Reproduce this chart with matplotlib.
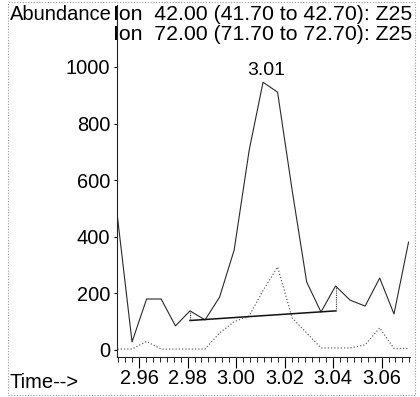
import matplotlib
matplotlib.use("Agg")
import matplotlib.pyplot as plt
from matplotlib.ticker import MultipleLocator, FixedLocator
from matplotlib.patches import Rectangle
import numpy as np

plt.rcParams['font.family'] = ['Liberation Sans', 'DejaVu Sans']

# scan times (min) and extracted ion abundances
scan_time = [2.9511, 2.9571, 2.9631, 2.9691, 2.9750, 2.9810, 2.9872, 2.9932,
             2.9992, 3.0054, 3.0111, 3.0171, 3.0231, 3.0291, 3.0350, 3.0410,
             3.0470, 3.0532, 3.0592, 3.0651, 3.0711]
ion42 = [469, 28, 180, 180, 85, 138, 106, 187, 353, 706, 946, 911, 565, 240,
         134, 226, 176, 155, 254, 127, 381]
ion72 = [3, 3, 30, 3, 3, 3, 3, 60, 100, 120, 210, 293, 113, 60, 7, 7, 7, 18,
         78, 5, 5]

# integration baseline under the 3.01 peak
base_t = [2.9810, 3.0410]
base_v = [104, 138]

xticks = [2.96, 2.98, 3.00, 3.02, 3.04, 3.06]
yticks = [0, 200, 400, 600, 800, 1000]

title1 = "Ion  42.00 (41.70 to 42.70): Z25"
title2 = "Ion  72.00 (71.70 to 72.70): Z25"

fig = plt.figure(figsize=(4.2, 3.97), dpi=100)
ax = fig.add_axes([117 / 420, 40 / 397, 293 / 420, 352 / 397])

ax.plot(scan_time, ion42, color='#2a2a2a', lw=0.8)
ax.plot(scan_time, ion72, color='#666666', lw=0.9, linestyle=(0, (1, 1.6)))

# baseline and the drop lines at its ends
ax.plot(base_t, base_v, color='#111111', lw=1.1)
for t, v in zip(base_t, base_v):
    top = ion42[scan_time.index(t)]
    ax.plot([t, t], [v, top], color='#333333', lw=0.8, linestyle=(0, (1, 1)))

# retention time label over the apex
i_max = int(np.argmax(ion42))
ax.annotate(f"{scan_time[i_max]:.2f}", (scan_time[i_max], ion42[i_max]),
            xytext=(2, 2), textcoords='offset points', ha='center', va='bottom',
            fontsize=14)

ax.set_xlim(2.9509, 3.0717)
ax.set_ylim(-25, 1219)
ax.xaxis.set_major_locator(FixedLocator(xticks))
ax.set_xticklabels([f"{x:.2f}" for x in xticks])
ax.xaxis.set_minor_locator(MultipleLocator(0.02 / 7))
ax.set_yticks(yticks)

ax.tick_params(axis='x', which='major', length=8, width=0.8, pad=1, labelsize=14.4)
ax.tick_params(axis='x', which='minor', length=3.5, width=0.6)
ax.tick_params(axis='y', which='major', length=2, width=0.8, pad=3, labelsize=14.4)

for side in ['top', 'right']:
    ax.spines[side].set_visible(False)
for side in ['left', 'bottom']:
    ax.spines[side].set_linewidth(0.8)
    ax.spines[side].set_color('#222222')

fig.text(10 / 420, 1 - 14 / 397, "Abundance", fontsize=14.5, va='center', ha='left')
fig.text(113 / 420, 1 - 14 / 397, title1, fontsize=15.3, va='center', ha='left')
fig.text(113 / 420, 1 - 35 / 397, title2, fontsize=15.3, va='center', ha='left')
fig.text(10 / 420, 1 - 382 / 397, "Time-->", fontsize=14.5, va='center', ha='left')

# dotted page frame
fig.add_artist(Rectangle((8 / 420, 2 / 397), 407 / 420, 393 / 397,
                         transform=fig.transFigure, fill=False,
                         edgecolor='#999999', lw=0.8, linestyle=(0, (1, 1.5))))

fig.savefig("out.png", dpi=100)
